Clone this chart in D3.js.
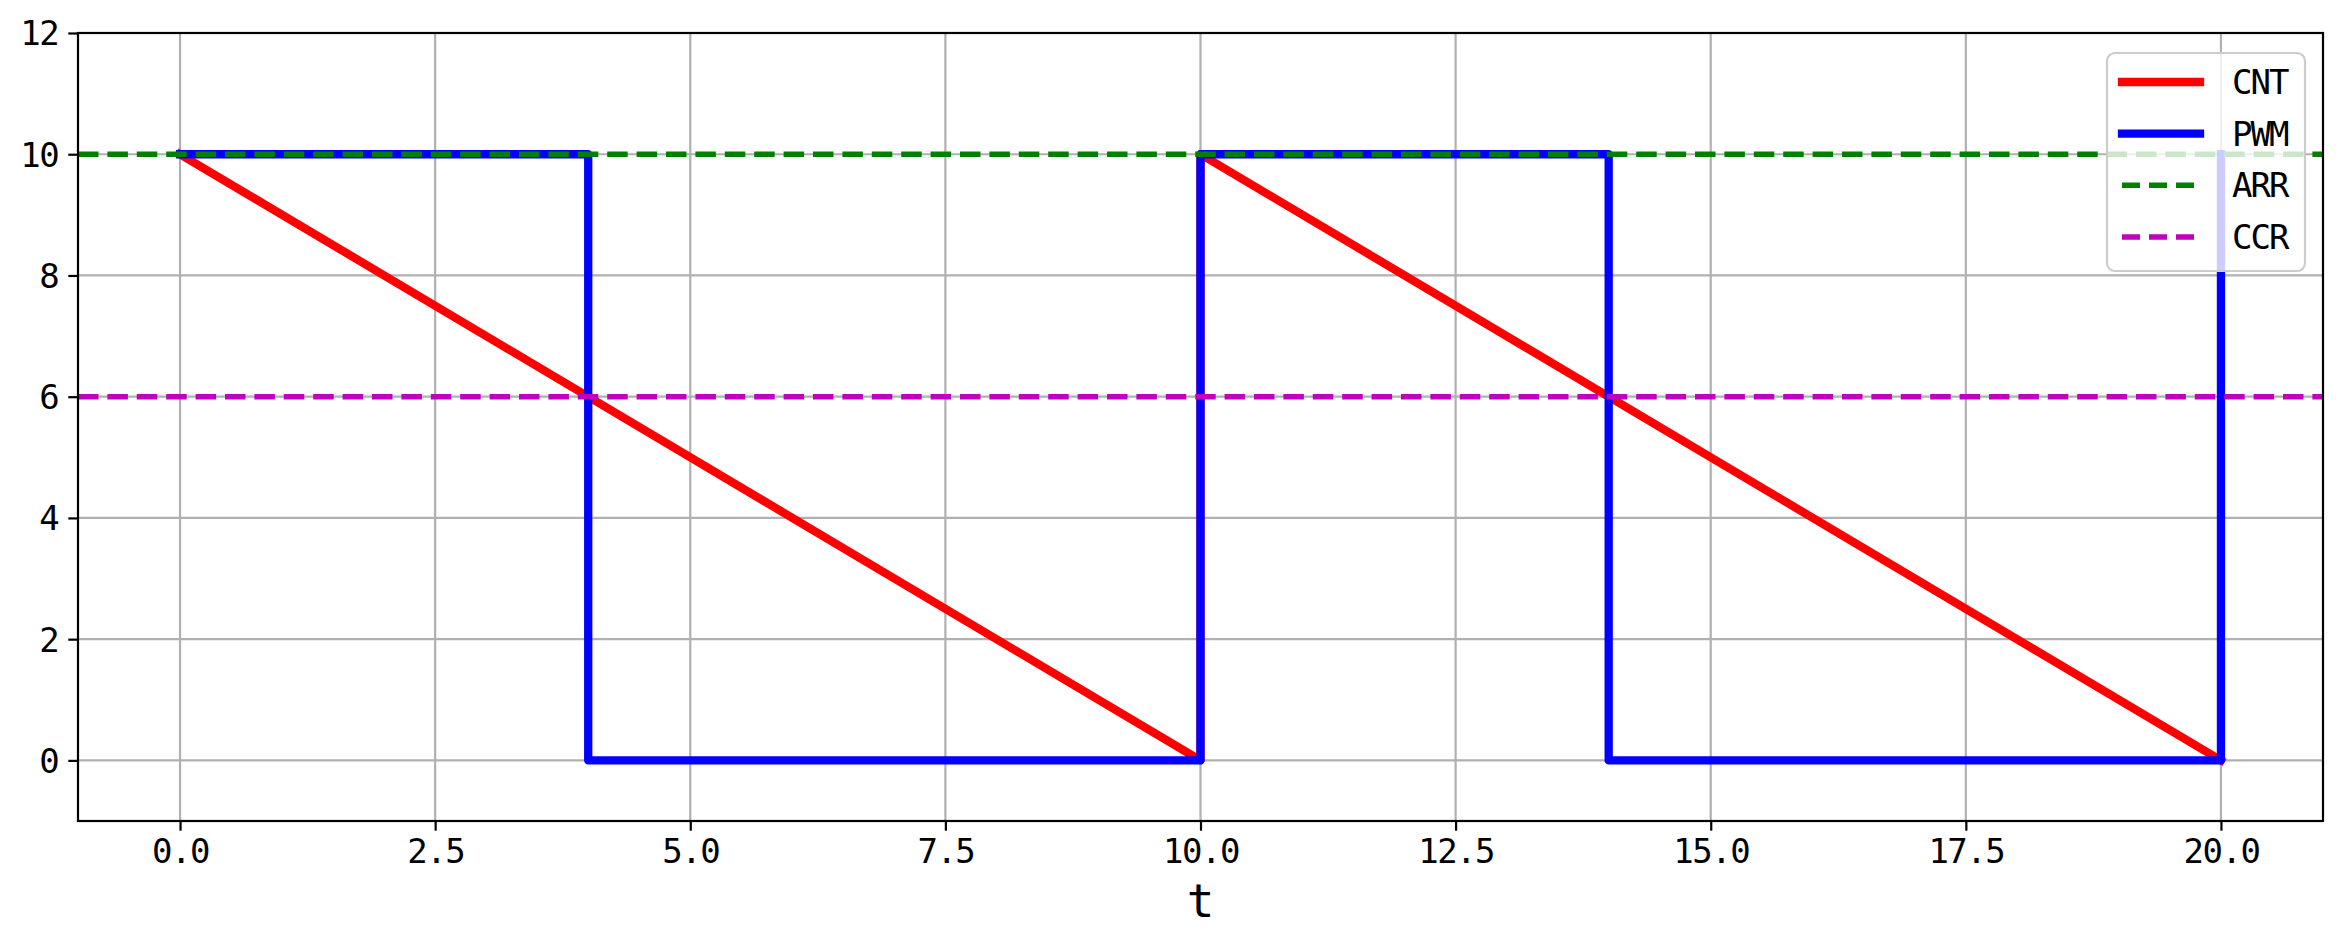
<!DOCTYPE html>
<html>
<head>
<meta charset="utf-8">
<script src="https://d3js.org/d3.v7.min.js"></script>
<style>
  body { margin: 0; padding: 0; background: #fff; }
  text { font-family: "DejaVu Sans Mono", monospace; }
</style>
</head>
<body>
<div id="chart"></div>
<script>
// data
var cntT = [0, 10, 10, 20];
var cntV = [10, 0, 10, 0];
var pwmT = [0, 4, 4, 10, 10, 14, 14, 20, 20];
var pwmV = [10, 10, 0, 0, 10, 10, 0, 0, 10];
var arrValue = 10;
var ccrValue = 6;
var xTicks = [0, 2.5, 5, 7.5, 10, 12.5, 15, 17.5, 20];
var yTicks = [0, 2, 4, 6, 8, 10, 12];
var legendNames = ["CNT", "PWM", "ARR", "CCR"];

var W = 2344, H = 944;
var pLeft = 78, pRight = 2323, pTop = 33, pBottom = 821;

var svg = d3.select("#chart").append("svg")
    .attr("width", W).attr("height", H);

var x = d3.scaleLinear().domain([-1, 21]).range([pLeft, pRight]);
var y = d3.scaleLinear().domain([-1, 12]).range([pBottom, pTop]);

svg.append("clipPath").attr("id", "clip")
  .append("rect").attr("x", pLeft).attr("y", pTop)
  .attr("width", pRight - pLeft).attr("height", pBottom - pTop);

// grid
var grid = svg.append("g");
grid.selectAll("line.gx").data(xTicks).enter().append("line").attr("class", "gx")
    .attr("x1", function(d) { return x(d); }).attr("x2", function(d) { return x(d); })
    .attr("y1", pTop).attr("y2", pBottom)
    .attr("stroke", "#b0b0b0").attr("stroke-width", 2.2);
grid.selectAll("line.gy").data(yTicks).enter().append("line").attr("class", "gy")
    .attr("y1", function(d) { return y(d); }).attr("y2", function(d) { return y(d); })
    .attr("x1", pLeft).attr("x2", pRight)
    .attr("stroke", "#b0b0b0").attr("stroke-width", 2.2);

var plot = svg.append("g").attr("clip-path", "url(#clip)");

var line = d3.line()
    .x(function(d) { return x(d[0]); })
    .y(function(d) { return y(d[1]); });

var cnt = d3.zip(cntT, cntV);
var pwm = d3.zip(pwmT, pwmV);

plot.append("path").attr("d", line(cnt))
    .attr("fill", "none").attr("stroke", "#ff0000").attr("stroke-width", 8.3)
    .attr("stroke-linejoin", "round").attr("stroke-linecap", "square");
plot.append("path").attr("d", line(pwm))
    .attr("fill", "none").attr("stroke", "#0000ff").attr("stroke-width", 8.3)
    .attr("stroke-linejoin", "round").attr("stroke-linecap", "square");

plot.append("line")
    .attr("x1", pLeft).attr("x2", pRight)
    .attr("y1", y(arrValue)).attr("y2", y(arrValue))
    .attr("stroke", "#008000").attr("stroke-width", 5.5)
    .attr("stroke-dasharray", "20.5,8.9");
plot.append("line")
    .attr("x1", pLeft).attr("x2", pRight)
    .attr("y1", y(ccrValue)).attr("y2", y(ccrValue))
    .attr("stroke", "#bf00bf").attr("stroke-width", 5.5)
    .attr("stroke-dasharray", "20.5,8.9");

// axes
var xAxis = d3.axisBottom(x).tickValues(xTicks).tickSizeOuter(0).tickSize(9.7).tickPadding(8)
    .tickFormat(d3.format(".1f"));
var yAxis = d3.axisLeft(y).tickValues(yTicks).tickSizeOuter(0).tickSize(9.7).tickPadding(10)
    .tickFormat(d3.format("d"));

var gx = svg.append("g").attr("transform", "translate(0," + pBottom + ")").call(xAxis);
var gy = svg.append("g").attr("transform", "translate(" + pLeft + ",0)").call(yAxis);
[gx, gy].forEach(function(g) {
  g.select(".domain").remove();
  g.selectAll(".tick line").attr("stroke", "#000").attr("stroke-width", 2.2);
  g.selectAll(".tick text").attr("fill", "#000").style("font-size", "34px")
    .style("letter-spacing", "-1.5px")
    .style("font-family", "DejaVu Sans Mono, monospace");
});
gy.selectAll(".tick text").attr("dy", "0.35em");

// spines
svg.append("rect").attr("x", pLeft).attr("y", pTop)
    .attr("width", pRight - pLeft).attr("height", pBottom - pTop)
    .attr("fill", "none").attr("stroke", "#000").attr("stroke-width", 2.2);

svg.append("text").attr("x", (pLeft + pRight) / 2).attr("y", 917)
    .attr("text-anchor", "middle").style("font-size", "46px").text("t");

// legend
var lg = svg.append("g");
lg.append("rect").attr("x", 2107).attr("y", 53).attr("width", 198).attr("height", 218)
    .attr("rx", 8).attr("fill", "#fff").attr("fill-opacity", 0.8)
    .attr("stroke", "#cccccc").attr("stroke-width", 2.2);
var legColors = ["#ff0000", "#0000ff", "#008000", "#bf00bf"];
var legDash = [null, null, "18,9", "18,9"];
var legW = [8.3, 8.3, 5.5, 5.5];
var legY = d3.scaleLinear().domain([0, 3]).range([82, 237]);
legendNames.forEach(function(name, i) {
  var yy = legY(i);
  var ln = lg.append("line").attr("y1", yy).attr("y2", yy)
      .attr("stroke", legColors[i]).attr("stroke-width", legW[i]);
  if (legDash[i]) ln.attr("stroke-dasharray", legDash[i]).attr("x1", 2122).attr("x2", 2200);
  else ln.attr("x1", 2122).attr("x2", 2200).attr("stroke-linecap", "square");
  lg.append("text").attr("x", 2232).attr("y", yy).attr("dy", "0.35em")
      .style("font-size", "34px").style("letter-spacing", "-2px").text(name);
});
</script>
</body>
</html>
